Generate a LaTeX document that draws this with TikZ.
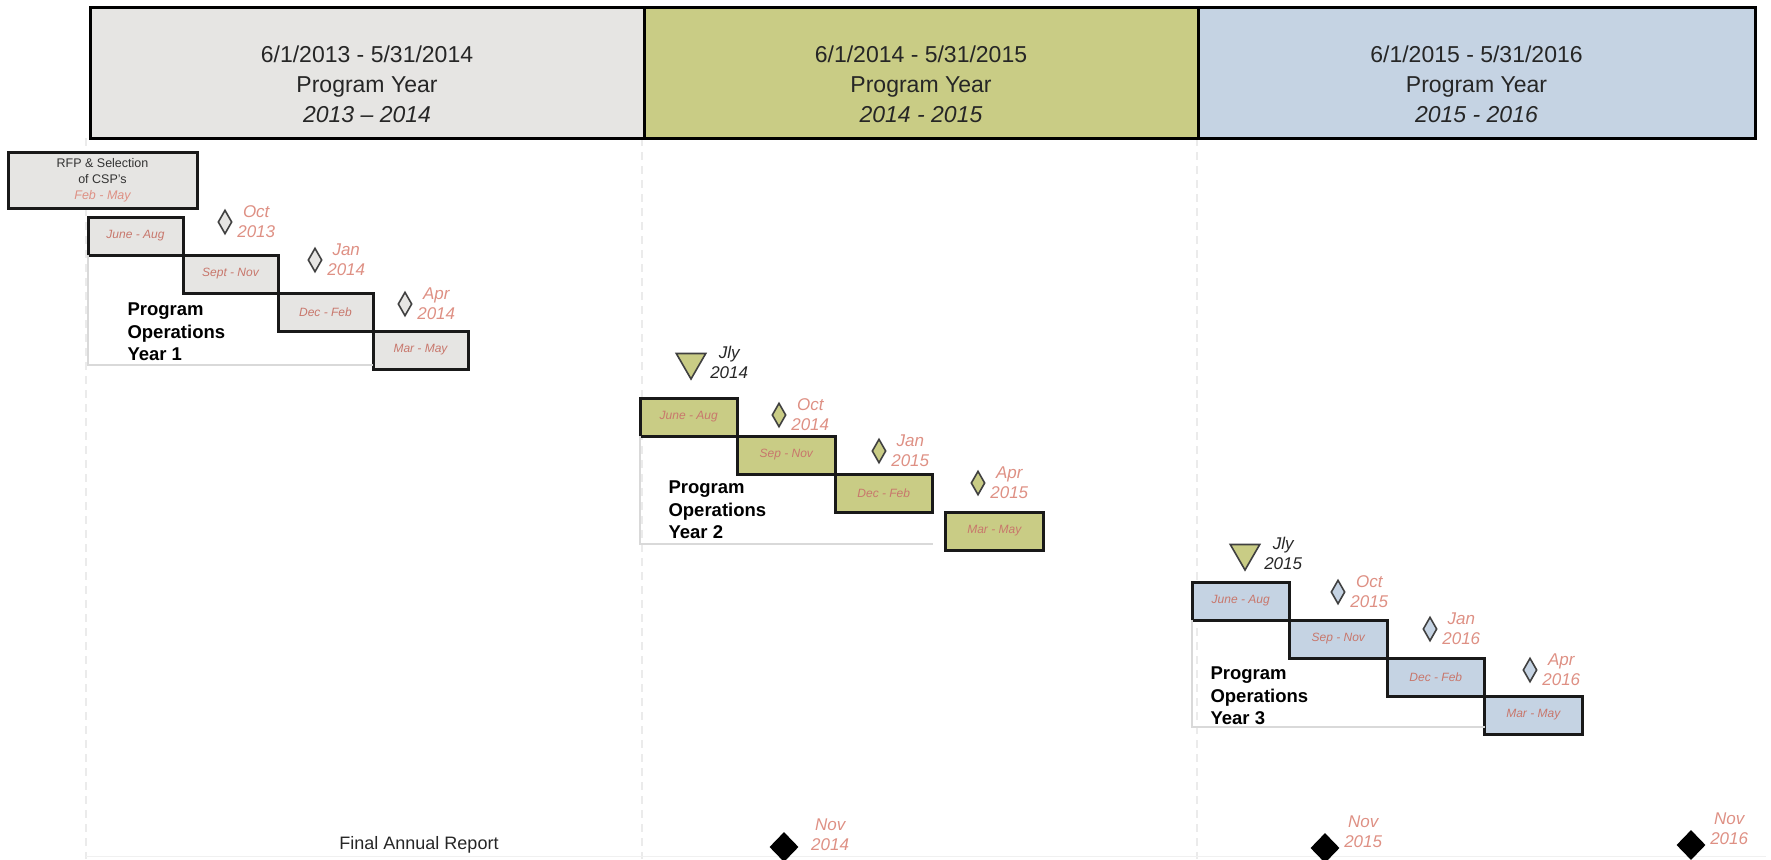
\documentclass[tikz,border=0pt]{standalone}
\usepackage{fontspec}
\setmainfont{Liberation Sans}
\usetikzlibrary{positioning, shapes.geometric, calc}

\begin{document}
\begin{tikzpicture}[
    x=1pt, y=-1pt,
    hdrbox/.style={rectangle, draw=black, line width=3pt, minimum height=130pt, inner sep=0pt},
    hdrtext/.style={align=center, text=black!85, font=\fontsize{23}{30}\selectfont},
    stepbox/.style={rectangle, draw=black!90, line width=3pt, minimum width=95pt,
        minimum height=38pt, inner sep=0pt, outer sep=0pt, anchor=north west,
        font=\fontsize{12}{14}\selectfont\itshape, text=steptext},
    widestep/.style={stepbox, minimum width=97.5pt},
    msdiamond/.style={diamond, draw=black!75, line width=1.6pt, inner sep=0pt,
        minimum width=14pt, minimum height=24pt},
    mslabel/.style={align=center, text=labelred, font=\fontsize{17}{20}\selectfont\itshape},
    jlytri/.style={regular polygon, regular polygon sides=3, shape border rotate=180,
        draw=black!75, fill=pyolive, line width=1.6pt, inner sep=0pt, minimum size=34pt},
    jlylabel/.style={align=center, text=black!85, font=\fontsize{17}{20}\selectfont\itshape},
    opstext/.style={align=left, anchor=west, font=\fontsize{18.5}{22.5}\selectfont\bfseries},
    frameline/.style={draw=black!15, line width=1.5pt},
    gridline/.style={draw=black!8, line width=1.5pt, dash pattern=on 8pt off 6pt},
    finaldiamond/.style={diamond, fill=black, inner sep=0pt, minimum width=29pt, minimum height=30pt},
]

% ── Colors ──
\definecolor{pygray}{HTML}{E6E5E3}
\definecolor{pyolive}{HTML}{C9CC85}
\definecolor{pyblue}{HTML}{C5D3E3}
\definecolor{labelred}{HTML}{DE9084}
\definecolor{steptext}{HTML}{C8776C}

\useasboundingbox (0,0) rectangle (1771,859);

% ══════════════════════════════════════════════
% Faint year separators
% ══════════════════════════════════════════════
\foreach \gx in {86, 642, 1197}
    \draw[gridline] (\gx,138) -- (\gx,859);
\draw[draw=black!6, line width=1pt] (86,856) -- (1766,856);

% ══════════════════════════════════════════════
% Header: program years
% ══════════════════════════════════════════════
\node[hdrbox, fill=pygray, minimum width=554pt] (hdr1) at (367,73) {};
\node[hdrbox, fill=pyolive, minimum width=554pt] (hdr2) at (921,73) {};
\node[hdrbox, fill=pyblue, minimum width=557pt] (hdr3) at (1476.5,73) {};

\node[hdrtext] (hdr1txt) at ([yshift=-11pt]hdr1.center)
    {6/1/2013 - 5/31/2014\\Program Year\\\textit{2013 -- 2014}};
\node[hdrtext] (hdr2txt) at ([yshift=-11pt]hdr2.center)
    {6/1/2014 - 5/31/2015\\Program Year\\\textit{2014 - 2015}};
\node[hdrtext] (hdr3txt) at ([yshift=-11pt]hdr3.center)
    {6/1/2015 - 5/31/2016\\Program Year\\\textit{2015 - 2016}};

% ══════════════════════════════════════════════
% RFP & selection
% ══════════════════════════════════════════════
\node[rectangle, draw=black!90, fill=pygray, line width=3pt,
    minimum width=189pt, minimum height=56pt, inner sep=0pt, align=center,
    font=\fontsize{12.5}{16}\selectfont, text=black!80]
    (rfp) at (102.5,180) {RFP \& Selection\\of CSP's\\{\color{labelred}\itshape Feb - May}};

% ══════════════════════════════════════════════
% YEAR 1
% ══════════════════════════════════════════════
\node[stepbox, fill=pygray] (ja1) at (88,217) {June - Aug};
\node[stepbox, fill=pygray] (sn1) at (ja1.south east) {Sept - Nov};
\node[stepbox, fill=pygray] (df1) at (sn1.south east) {Dec - Feb};
\node[stepbox, fill=pygray] (mm1) at (df1.south east) {Mar - May};

\coordinate (fr1) at ($(mm1.south west)+(0,-4)$);
\draw[frameline] (ja1.south west) |- (fr1);

\node[msdiamond, fill=pygray] (oct1) at (225,222) {};
\node[mslabel, right=1pt of oct1] (oct1lbl) {Oct\\2013};
\node[msdiamond, fill=pygray] (jan1) at (315,260) {};
\node[mslabel, right=1pt of jan1] (jan1lbl) {Jan\\2014};
\node[msdiamond, fill=pygray] (apr1) at (405,304) {};
\node[mslabel, right=1pt of apr1] (apr1lbl) {Apr\\2014};

\node[opstext] (ops1) at (124,332) {Program\\Operations\\Year 1};

% ══════════════════════════════════════════════
% YEAR 2
% ══════════════════════════════════════════════
\node[jlytri] (jly2) at (691,362) {};
\node[jlylabel, right=5pt of jly2] (jly2lbl) {Jly\\2014};

\node[widestep, fill=pyolive] (ja2) at (640,398) {June - Aug};
\node[widestep, fill=pyolive] (sn2) at (ja2.south east) {Sep - Nov};
\node[widestep, fill=pyolive] (df2) at (sn2.south east) {Dec - Feb};
\node[widestep, fill=pyolive] (mm2) at ([xshift=13pt]df2.south east) {Mar - May};

\coordinate (fr2) at ($(df2.east |- mm2.south)+(0,-6)$);
\draw[frameline] (ja2.south west) |- (fr2);

\node[msdiamond, fill=pyolive] (oct2) at (779,415) {};
\node[mslabel, right=1pt of oct2] (oct2lbl) {Oct\\2014};
\node[msdiamond, fill=pyolive] (jan2) at (879,451) {};
\node[mslabel, right=1pt of jan2] (jan2lbl) {Jan\\2015};
\node[msdiamond, fill=pyolive] (apr2) at (978,483) {};
\node[mslabel, right=1pt of apr2] (apr2lbl) {Apr\\2015};

\node[opstext] (ops2) at (665,510) {Program\\Operations\\Year 2};

% ══════════════════════════════════════════════
% YEAR 3
% ══════════════════════════════════════════════
\node[jlytri] (jly3) at (1245,553) {};
\node[jlylabel, right=5pt of jly3] (jly3lbl) {Jly\\2015};

\node[widestep, fill=pyblue] (ja3) at (1192,582) {June - Aug};
\node[widestep, fill=pyblue] (sn3) at (ja3.south east) {Sep - Nov};
\node[widestep, fill=pyblue] (df3) at (sn3.south east) {Dec - Feb};
\node[widestep, fill=pyblue] (mm3) at (df3.south east) {Mar - May};

\coordinate (fr3) at ($(mm3.south west)+(0,-7)$);
\draw[frameline] (ja3.south west) |- (fr3);

\node[msdiamond, fill=pyblue] (oct3) at (1338,592) {};
\node[mslabel, right=1pt of oct3] (oct3lbl) {Oct\\2015};
\node[msdiamond, fill=pyblue] (jan3) at (1430,629) {};
\node[mslabel, right=1pt of jan3] (jan3lbl) {Jan\\2016};
\node[msdiamond, fill=pyblue] (apr3) at (1530,670) {};
\node[mslabel, right=1pt of apr3] (apr3lbl) {Apr\\2016};

\node[opstext] (ops3) at (1207,696) {Program\\Operations\\Year 3};

% ══════════════════════════════════════════════
% Final annual reports
% ══════════════════════════════════════════════
\node[font=\fontsize{18}{22}\selectfont, text=black!85] (far) at (419,845) {Final Annual Report};

\node[finaldiamond] (nov14) at (784,847) {};
\node[mslabel, anchor=west] at ([xshift=9pt, yshift=12pt]nov14.east) (nov14lbl) {Nov\\2014};
\node[finaldiamond] (nov15) at (1325,848) {};
\node[mslabel, anchor=west] at ([xshift=1pt, yshift=16pt]nov15.east) (nov15lbl) {Nov\\2015};
\node[finaldiamond] (nov16) at (1691,845) {};
\node[mslabel, anchor=west] at ([xshift=1pt, yshift=16pt]nov16.east) (nov16lbl) {Nov\\2016};

\end{tikzpicture}
\end{document}
